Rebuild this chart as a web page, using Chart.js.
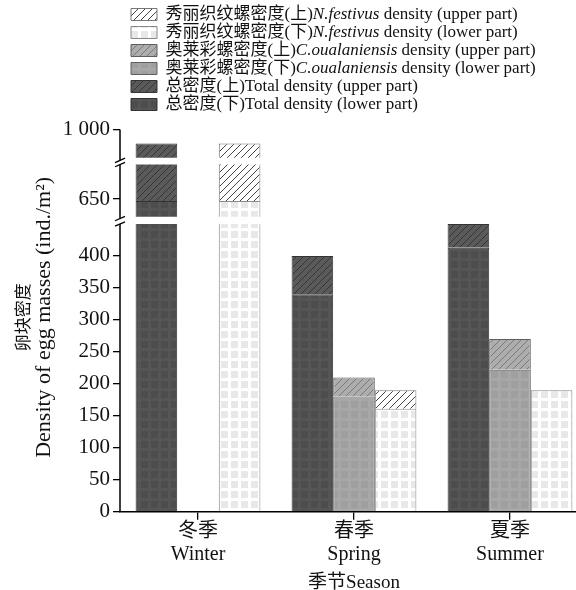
<!DOCTYPE html>
<html><head><meta charset="utf-8">
<script src="https://cdn.jsdelivr.net/npm/chart.js@4/dist/chart.umd.min.js"></script>
<style>
html,body{margin:0;padding:0;background:#fff;overflow:hidden;width:576px;height:590px;}
#wrap{position:absolute;left:0;top:0;width:600px;height:590px;}
</style></head><body>
<div id="wrap"><canvas id="c" width="600" height="590"></canvas></div>
<script>
// ---- data ----
const seasons = [['冬季', 'Winter'], ['春季', 'Spring'], ['夏季', 'Summer']];
const totalLower = [647, 340, 413];
const totalUpper = [331, 60, 37];
const coualLower = [0, 180, 222];
const coualUpper = [0, 30, 48];
const festLower = [647, 161, 190];
const festUpper = [331, 29, 0];
const lowTicks = [0, 50, 100, 150, 200, 250, 300, 350, 400];
const midTicks = [650];
const topTicks = [1000];
const seriesLabels = {
  totLow: '总密度(下)Total density (lower part)',
  totUp: '总密度(上)Total density (upper part)',
  coLow: '奥莱彩螺密度(下)C.oualaniensis density (lower part)',
  coUp: '奥莱彩螺密度(上)C.oualaniensis density (upper part)',
  nfLow: '秀丽织纹螺密度(下)N.festivus density (lower part)',
  nfUp: '秀丽织纹螺密度(上)N.festivus density (upper part)'
};

// ---- styles ----
const FONT = "'Liberation Serif','Times New Roman','Noto Sans CJK SC',serif";
Chart.defaults.font.family = FONT;
Chart.defaults.color = '#111';
const LEGEND_SIZE = 17;

function checker(bg, sq) {
  const c = document.createElement('canvas'); c.width = 10; c.height = 10;
  const x = c.getContext('2d');
  x.fillStyle = bg; x.fillRect(0, 0, 10, 10);
  x.fillStyle = sq; x.fillRect(1, 1, 7, 7);
  return x.createPattern(c, 'repeat');
}
function hatch(bg, line) {
  const n = 7;
  const c = document.createElement('canvas'); c.width = n; c.height = n;
  const x = c.getContext('2d');
  x.fillStyle = bg; x.fillRect(0, 0, n, n);
  x.strokeStyle = line; x.lineWidth = 1;
  x.beginPath();
  x.moveTo(-1, n + 1); x.lineTo(n + 1, -1);
  x.moveTo(-1, 1); x.lineTo(1, -1);
  x.moveTo(n - 1, n + 1); x.lineTo(n + 1, n - 1);
  x.stroke();
  return x.createPattern(c, 'repeat');
}

const styles = {
  totLow: {bg: checker('#555555', '#4d4d4d'), border: '#333'},
  totUp: {bg: hatch('#5a5a5a', '#363636'), border: '#333'},
  coLow: {bg: checker('#a7a7a7', '#9f9f9f'), border: '#5e5e5e'},
  coUp: {bg: hatch('#adadad', '#7a7a7a'), border: '#5e5e5e'},
  nfLow: {bg: checker('#ffffff', '#e8e8e8'), border: '#8a8a8a'},
  nfUp: {bg: hatch('#ffffff', '#444'), border: '#777'}
};
const series = [
  {key: 'totLow', data: totalLower, stack: 'tot'},
  {key: 'totUp', data: totalUpper, stack: 'tot'},
  {key: 'coLow', data: coualLower, stack: 'co'},
  {key: 'coUp', data: coualUpper, stack: 'co'},
  {key: 'nfLow', data: festLower, stack: 'nf'},
  {key: 'nfUp', data: festUpper, stack: 'nf'}
];

// broken-axis segments (value ranges)
const segments = [
  {id: 'yLow', min: 0, max: 456, clipLo: 0, clipHi: 450, lineLo: 0, lineHi: 450, ticks: lowTicks, weight: 1},
  {id: 'yMid', min: 617, max: 709, clipLo: 622.5, clipHi: 704, lineLo: 619.5, lineHi: 704, ticks: midTicks, weight: 2},
  {id: 'yTop', min: 950, max: 1010, clipLo: 955.5, clipHi: 1010, lineLo: 951.5, lineHi: 1000, ticks: topTicks, weight: 3}
];
const segById = {};
segments.forEach(s => segById[s.id] = s);

const datasets = [];
segments.forEach(seg => {
  series.forEach(s => {
    datasets.push({
      label: seriesLabels[s.key],
      data: s.data,
      stack: s.stack,
      yAxisID: seg.id,
      xAxisID: 'x',
      backgroundColor: styles[s.key].bg,
      borderColor: styles[s.key].border,
      borderWidth: 1,
      categoryPercentage: 0.8,
      barPercentage: 1.0,
      clip: false
    });
  });
});

const fmt = v => String(v).replace(/\B(?=(\d{3})+(?!\d))/g, ' ');

const scales = {
  x: {
    type: 'category', position: 'bottom', offset: true,
    grid: {display: true, offset: false, drawOnChartArea: false, drawTicks: true, tickLength: 8, color: '#000', lineWidth: 1.3},
    border: {display: true, color: '#000', width: 1.5},
    ticks: {font: {size: 20, lineHeight: 1.15}, color: '#111', padding: 1, maxRotation: 0},
    title: {display: true, text: '季节Season', font: {size: 19}, color: '#111', padding: {top: 4, bottom: 0}}
  },
  tCJK: {
    type: 'linear', position: 'left', weight: 10,
    grid: {display: false}, border: {display: false}, ticks: {display: false},
    title: {display: true, text: '卵块密度', font: {size: 17, family: "'Noto Sans CJK SC',sans-serif"}, color: '#111', padding: 0},
    afterFit: s => { s.width = 19; }
  },
  tEN: {
    type: 'linear', position: 'left', weight: 9,
    grid: {display: false}, border: {display: false}, ticks: {display: false},
    title: {display: true, text: 'Density of egg masses (ind./m²)', font: {size: 22}, color: '#111', padding: 0},
    afterFit: s => { s.width = 26; }
  }
};
segments.forEach(seg => {
  scales[seg.id] = {
    type: 'linear', position: 'left', stack: 'ys', stackWeight: seg.max - seg.min, weight: seg.weight,
    min: seg.min, max: seg.max, stacked: true, offset: false,
    afterBuildTicks: s => { s.ticks = seg.ticks.map(v => ({value: v})); },
    afterFit: s => { s.width = 63; },
    border: {display: false},
    grid: {display: true, drawOnChartArea: false, drawTicks: true, tickLength: 7, color: '#000', lineWidth: 1.3},
    ticks: {font: {size: 21}, color: '#111', padding: 3, autoSkip: false, callback: v => fmt(v)}
  };
});

const brokenAxis = {
  id: 'brokenAxis',
  afterLayout(chart) {
    if (chart.legend) { chart.legend.left += 10; chart.legend.right += 10; }
  },
  beforeDatasetDraw(chart, args) {
    const ds = chart.data.datasets[args.index];
    const seg = segById[ds.yAxisID];
    const sc = chart.scales[ds.yAxisID];
    const ca = chart.chartArea;
    const top = sc.getPixelForValue(seg.clipHi);
    const bot = sc.getPixelForValue(seg.clipLo);
    const ctx = chart.ctx;
    ctx.save();
    ctx.beginPath();
    ctx.rect(ca.left, top, ca.right - ca.left, bot - top);
    ctx.clip();
  },
  afterDatasetDraw(chart) { chart.ctx.restore(); },
  afterDraw(chart) {
    const ctx = chart.ctx;
    const x = chart.chartArea.left;
    ctx.save();
    ctx.strokeStyle = '#000';
    segments.forEach(seg => {
      const sc = chart.scales[seg.id];
      const yTopPx = sc.getPixelForValue(seg.lineHi);
      const yBotPx = sc.getPixelForValue(seg.lineLo);
      ctx.lineWidth = 1.5;
      ctx.beginPath(); ctx.moveTo(x, yTopPx); ctx.lineTo(x, yBotPx); ctx.stroke();
      ctx.lineWidth = 1.3;
      const ends = [];
      if (seg.id !== 'yTop') ends.push(yTopPx);
      if (seg.id !== 'yLow') ends.push(yBotPx);
      ends.forEach(y => {
        ctx.beginPath(); ctx.moveTo(x - 5, y + 2.2); ctx.lineTo(x + 5, y - 2.2); ctx.stroke();
      });
    });
    // legend texts with italic species names
    const lg = chart.legend;
    if (lg && lg.legendHitBoxes) {
      ctx.fillStyle = '#111';
      ctx.textBaseline = 'middle';
      ctx.textAlign = 'left';
      lg.legendItems.forEach((item, i) => {
        const hb = lg.legendHitBoxes[i];
        let tx = hb.left + 26 + LEGEND_SIZE / 2;
        const ty = hb.top + hb.height / 2;
        const m = item.text.match(/^(.*?\))([A-Z]\.[a-z]+)?(.*)$/);
        const parts = m ? [[m[1], ''], [m[2] || '', 'italic '], [m[3], '']] : [[item.text, '']];
        parts.forEach(([t, st]) => {
          if (!t) return;
          ctx.font = st + LEGEND_SIZE + 'px ' + FONT;
          ctx.fillText(t, tx, ty);
          tx += ctx.measureText(t).width;
        });
      });
    }
    ctx.restore();
  }
};

new Chart(document.getElementById('c'), {
  type: 'bar',
  data: {labels: seasons, datasets},
  options: {
    responsive: false, animation: false, devicePixelRatio: 1,
    layout: {padding: {left: 12, right: 12, top: 5, bottom: -4.5}},
    plugins: {
      legend: {
        display: true, position: 'top', align: 'start', fullSize: false, reverse: true,
        labels: {
          boxWidth: 26, boxHeight: 12, padding: 1, font: {size: LEGEND_SIZE}, color: 'rgba(0,0,0,0)',
          filter: (item, data) => data.datasets[item.datasetIndex].yAxisID === 'yLow'
        }
      },
      tooltip: {enabled: false}
    },
    scales
  },
  plugins: [brokenAxis]
});
</script>
</body></html>
